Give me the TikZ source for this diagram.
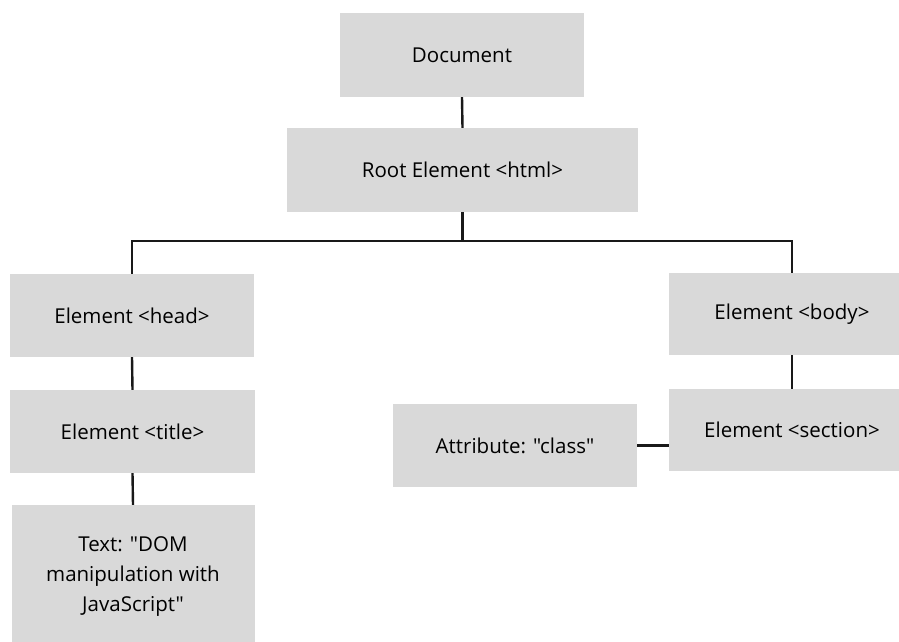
\documentclass[tikz,border=0pt]{standalone}
\usepackage{fontspec}
\setmainfont{Open Sans}[Ligatures=TeXOff]
\usetikzlibrary{calc}
\newcommand\dq{\symbol{34}}
\tikzset{
	domnode/.style={fill=black!15, inner sep=0pt, align=center, font=\fontsize{20.5}{30}\selectfont},
	link/.style={line width=2.4pt, color=black!90}
}

\begin{document}
\begin{tikzpicture}[x=1pt, y=-1pt]
		%%%%% START %%%%%
		
		\useasboundingbox (0, 0) rectangle (899, 641);
		\clip (0, 0) rectangle (899, 641);
		
		\node[domnode, minimum width=244pt, minimum height=84pt] (doc) at (462, 55) {Document};
		\node[domnode, minimum width=351pt, minimum height=84pt] (root) at (462.5, 170) {Root Element <html>};
		
		\node[domnode, minimum width=244pt, minimum height=83pt] (head) at (132, 315.5) {Element <head>};
		\node[domnode, minimum width=245pt, minimum height=83pt] (title) at (132.5, 431.5) {Element <title>};
		\node[domnode, minimum width=243pt, minimum height=144pt] (text) at (133, 577) {Text: \dq DOM\\manipulation with\\JavaScript\dq};
		
		\node[domnode, minimum width=246pt, minimum height=82pt] (body) at (792, 314) {Element <body>};
		\node[domnode, minimum width=246pt, minimum height=82pt] (section) at (792, 430) {Element <section>};
		\node[domnode, minimum width=244pt, minimum height=83pt] (attr) at (515, 445.5) {Attribute: \dq class\dq};
		
		\coordinate (split) at (462.5, 241);
		
		\draw[link] (doc.south) -- (root.north);
		\draw[link] (root.south) -- (split);
		\draw[link] (head.north) |- (split) -| (body.north);
		\draw[link] (head.south) -- (title.north);
		\draw[link] (title.south) -- (text.north);
		\draw[link] (body.south) -- (section.north);
		\draw[link] (attr.east) -- (attr.east -| section.west);
		
		%%%%% END %%%%%
	\end{tikzpicture}
\end{document}
